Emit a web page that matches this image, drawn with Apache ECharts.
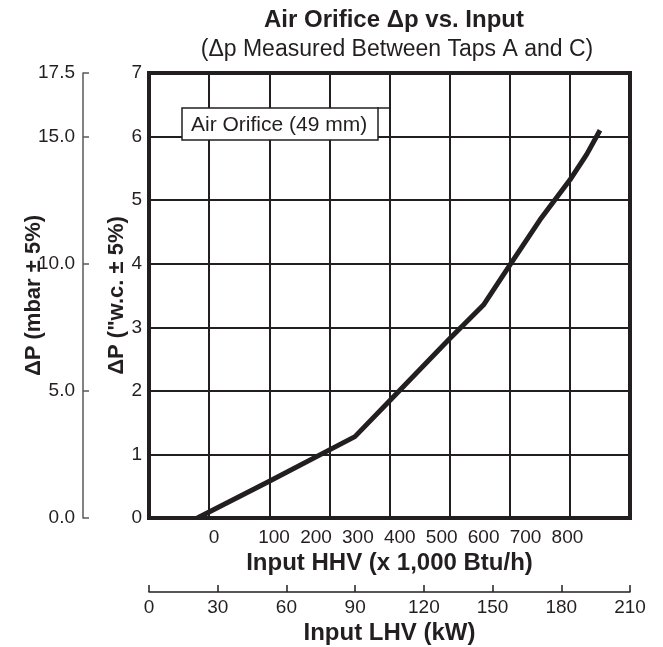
<!DOCTYPE html>
<html>
<head>
<meta charset="utf-8">
<script src="https://cdn.jsdelivr.net/npm/echarts@6/dist/echarts.min.js"></script>
<style>
html,body{margin:0;padding:0;background:#fff;}
#chart{width:663px;height:647px;}
</style>
</head>
<body>
<div id="chart"></div>
<script>
// curve: input LHV (kW) vs delta p ("w.c.)
var inputKw = [21.1, 52.1, 89.9, 105.5, 130.7, 146.0, 157.6, 170.7, 183.8, 191.1, 196.9];
var dpInwc  = [0.00, 0.57, 1.28, 1.86, 2.80, 3.35, 3.98, 4.69, 5.32, 5.72, 6.10];

var hhvLabels = ['0', '100', '200', '300', '400', '500', '600', '700', '800'];
var lhvTicks = [0, 30, 60, 90, 120, 150, 180, 210];
var mbarTicks = [0, 5, 10, 15, 17.5];
var inwcTicks = [0, 1, 2, 3, 4, 5, 6, 7];

// where the HHV labels sit on the kW scale (as printed, not aligned to grid)
var hhvLabelAt = [28.4, 54.6, 72.9, 91.2, 109.5, 127.8, 146.1, 164.4, 182.7];

var ink = '#231f20';
var font = 'Liberation Sans, Arial, sans-serif';

var chart = echarts.init(document.getElementById('chart'));

var lineData = [];
for (var i = 0; i < inputKw.length; i++) {
	lineData.push([inputKw[i], dpInwc[i]]);
}

function nameStyle(size) {
	return { fontFamily: font, fontSize: size, fontWeight: 'bold', color: ink };
}

var option = {
	animation: false,
	backgroundColor: '#fff',
	textStyle: { fontFamily: font, color: ink },
	title: [
		{
			text: 'Air Orifice \u0394p vs. Input',
			left: 389, top: 3, textAlign: 'center',
			textStyle: { fontFamily: font, fontSize: 24, fontWeight: 'bold', color: ink }
		},
		{
			text: '(\u0394p Measured Between Taps A and C)',
			left: 392, top: 33, textAlign: 'center',
			textStyle: { fontFamily: font, fontSize: 23, fontWeight: 'normal', color: ink }
		}
	],
	grid: {
		left: 149, right: 33, top: 73, bottom: 129,
		outerBoundsMode: 'none', containLabel: false,
		show: true, borderColor: ink, borderWidth: 4, backgroundColor: '#fff'
	},
	xAxis: [
		{
			// grid columns
			type: 'value', min: 0, max: 210, interval: 26.25,
			axisLine: { show: false, onZero: false }, axisTick: { show: false }, axisLabel: { show: false },
			splitLine: { show: true, lineStyle: { color: ink, width: 2 } }
		},
		{
			// HHV labels
			type: 'value', min: 0, max: 210, position: 'bottom',
			axisLine: { show: false, onZero: false }, axisTick: { show: false }, splitLine: { show: false },
			axisLabel: {
				show: true, margin: 10, fontSize: 19, color: ink, fontFamily: font,
				customValues: hhvLabelAt,
				formatter: function (v) {
					var best = 0;
					for (var k = 1; k < hhvLabelAt.length; k++) {
						if (Math.abs(hhvLabelAt[k] - v) < Math.abs(hhvLabelAt[best] - v)) best = k;
					}
					return hhvLabels[best];
				}
			},
			name: 'Input HHV (x 1,000 Btu/h)', nameLocation: 'middle', nameGap: 33, nameMoveOverlap: false,
			nameTextStyle: nameStyle(24)
		},
		{
			// LHV axis
			type: 'value', min: 0, max: 210, position: 'bottom', offset: 74,
			axisLine: { show: true, onZero: false, lineStyle: { color: ink, width: 1.5 } },
			axisTick: { show: true, inside: true, length: 7, lineStyle: { color: ink, width: 1.5 }, customValues: lhvTicks },
			axisLabel: { show: true, margin: 6, fontSize: 19, color: ink, fontFamily: font, customValues: lhvTicks },
			splitLine: { show: false },
			name: 'Input LHV (kW)', nameLocation: 'middle', nameGap: 29, nameMoveOverlap: false,
			nameTextStyle: nameStyle(24)
		}
	],
	yAxis: [
		{
			type: 'value', min: 0, max: 7, interval: 1,
			axisLine: { show: false, onZero: false }, axisTick: { show: false },
			axisLabel: { margin: 7, fontSize: 19, color: ink, fontFamily: font, customValues: inwcTicks },
			splitLine: { show: true, lineStyle: { color: ink, width: 2 } },
			name: '\u0394P ("w.c. \u00b1 5%)', nameLocation: 'middle', nameGap: 21, nameMoveOverlap: false,
			nameTextStyle: nameStyle(22)
		},
		{
			type: 'value', min: 0, max: 17.5, position: 'left', offset: 66,
			axisLine: { show: true, onZero: false, lineStyle: { color: '#58595b', width: 1.5 } },
			axisTick: { show: true, inside: true, length: 6, lineStyle: { color: '#58595b', width: 1.5 }, customValues: mbarTicks },
			axisLabel: {
				margin: 8, fontSize: 19, color: ink, fontFamily: font, customValues: mbarTicks,
				formatter: function (v) { return v.toFixed(1); }
			},
			splitLine: { show: false },
			name: '\u0394P (mbar \u00b1 5%)', nameLocation: 'middle', nameGap: 38, nameMoveOverlap: false,
			nameTextStyle: nameStyle(22)
		}
	],
	series: [
		{
			name: 'Air Orifice (49 mm)',
			type: 'line',
			xAxisIndex: 0, yAxisIndex: 0,
			data: lineData,
			showSymbol: false,
			lineStyle: { color: ink, width: 5, cap: 'butt', join: 'round' },
			z: 5
		}
	],
	graphic: [
		{
			type: 'line', z: 100,
			shape: { x1: 377, y1: 108, x2: 391, y2: 108 },
			style: { stroke: ink, lineWidth: 1.5 }
		},
		{
			type: 'rect', z: 100,
			shape: { x: 182, y: 108, width: 196, height: 32 },
			style: { fill: '#fff', stroke: ink, lineWidth: 1.5 }
		},
		{
			type: 'text', z: 101,
			style: { x: 191, y: 125, text: 'Air Orifice (49 mm)', fontSize: 21, fontFamily: font, fill: ink, verticalAlign: 'middle' }
		}
	]
};

chart.setOption(option);
</script>
</body>
</html>
